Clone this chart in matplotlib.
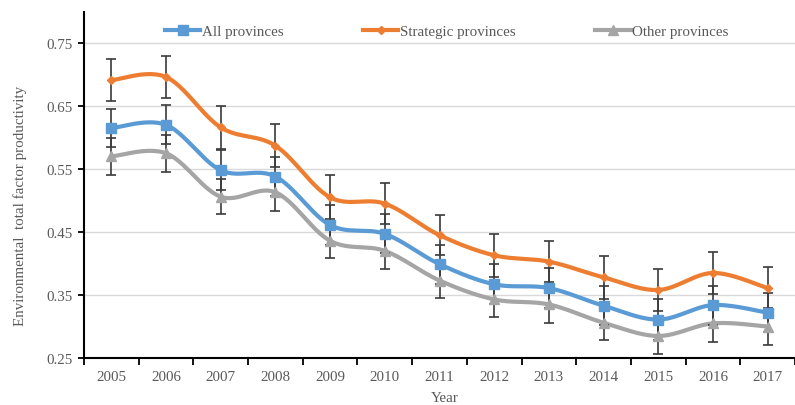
import numpy as np
import matplotlib.pyplot as plt
from matplotlib.lines import Line2D

years = [2005, 2006, 2007, 2008, 2009, 2010, 2011, 2012, 2013, 2014, 2015, 2016, 2017]

all_prov = [0.615, 0.620, 0.548, 0.538, 0.461, 0.447, 0.399, 0.367, 0.361, 0.333, 0.311, 0.334, 0.322]
strategic = [0.691, 0.696, 0.616, 0.587, 0.505, 0.495, 0.445, 0.413, 0.403, 0.378, 0.358, 0.385, 0.361]
other = [0.570, 0.575, 0.506, 0.513, 0.436, 0.420, 0.373, 0.343, 0.335, 0.306, 0.285, 0.305, 0.300]

err_all = [0.030, 0.031, 0.032, 0.031, 0.032, 0.031, 0.031, 0.032, 0.032, 0.031, 0.032, 0.031, 0.031]
err_strategic = [0.033, 0.034, 0.034, 0.034, 0.035, 0.033, 0.032, 0.034, 0.033, 0.034, 0.033, 0.034, 0.034]
err_other = [0.029, 0.029, 0.028, 0.029, 0.028, 0.028, 0.028, 0.028, 0.029, 0.028, 0.029, 0.029, 0.029]

names = ["All provinces", "Strategic provinces", "Other provinces"]
colors = ["#5B9BD5", "#ED7D31", "#A5A5A5"]
markers = ["s", "D", "^"]
msizes = [7, 4.5, 7]
FS = 10.8


def smooth(x, y, n=30):
    # excel-like bezier smoothing through the points
    x = np.asarray(x, float)
    y = np.asarray(y, float)
    xp = np.concatenate([[x[0]], x, [x[-1]]])
    yp = np.concatenate([[y[0]], y, [y[-1]]])
    xs, ys = [], []
    t = np.linspace(0, 1, n)
    for i in range(len(x) - 1):
        p0 = np.array([xp[i + 1], yp[i + 1]])
        p3 = np.array([xp[i + 2], yp[i + 2]])
        p1 = p0 + (np.array([xp[i + 2], yp[i + 2]]) - np.array([xp[i], yp[i]])) / 6
        p2 = p3 - (np.array([xp[i + 3], yp[i + 3]]) - np.array([xp[i + 1], yp[i + 1]])) / 6
        b = ((1 - t) ** 3)[:, None] * p0 + (3 * (1 - t) ** 2 * t)[:, None] * p1 \
            + (3 * (1 - t) * t ** 2)[:, None] * p2 + (t ** 3)[:, None] * p3
        xs.extend(b[:, 0])
        ys.extend(b[:, 1])
    return np.array(xs), np.array(ys)


plt.rcParams['font.family'] = ['Liberation Serif', 'DejaVu Serif']
plt.rcParams['font.size'] = FS

fig = plt.figure(figsize=(7.95, 4.06), dpi=100)
ax = fig.add_axes([84 / 795, 47 / 406, 1 - 84 / 795, 346.5 / 406])

x = np.arange(len(years))
series = [all_prov, strategic, other]
errs = [err_all, err_strategic, err_other]

for vals, c in zip(series, colors):
    sx, sy = smooth(x, vals)
    ax.plot(sx, sy, color=c, lw=3, zorder=3, solid_capstyle='round')

for vals, e in zip(series, errs):
    ax.errorbar(x, vals, yerr=e, fmt='none', ecolor='#3a3a3a', elinewidth=1.2,
                capsize=3.5, capthick=1.2, zorder=4)

for vals, c, m, ms in zip(series, colors, markers, msizes):
    ax.plot(x, vals, ls='none', marker=m, ms=ms, color=c, zorder=5)

ax.set_xlim(-0.5, 12.31)
ax.set_ylim(0.25, 0.80)
ax.set_yticks(np.arange(0.25, 0.76, 0.1))
ax.set_yticklabels(["%.2f" % v for v in np.arange(0.25, 0.76, 0.1)])
ax.yaxis.grid(True, color='#D9D9D9', lw=1)
ax.set_axisbelow(True)

ax.set_xticks(np.arange(-0.5, 13, 1))
ax.set_xticklabels([])
ax.set_xticks(x, minor=True)
ax.set_xticklabels([str(y) for y in years], minor=True)
ax.tick_params(axis='x', which='major', length=5, width=1.3, color='black')
ax.tick_params(axis='x', which='minor', length=0, pad=9, labelcolor='#595959')
ax.tick_params(axis='y', length=4, width=1.3, labelcolor='#595959', pad=4)

for s in ['top', 'right']:
    ax.spines[s].set_visible(False)
for s in ['left', 'bottom']:
    ax.spines[s].set_linewidth(1.5)
    ax.spines[s].set_color('black')

fig.text(20 / 795, 1 - 206 / 406, "Environmental  total factor productivity",
         rotation=90, ha='center', va='center', color='#595959', fontsize=FS)
fig.text(445 / 795, 1 - 399 / 406, "Year", ha='center', va='center',
         color='#595959', fontsize=FS)

handles = [Line2D([], [], color=c, lw=3, marker=m, ms=ms) for c, m, ms in zip(colors, markers, msizes)]
fig.legend(handles, names, loc='center left', bbox_to_anchor=(165 / 795, 1 - 32 / 406),
           ncol=3, frameon=False, borderpad=0, borderaxespad=0, handlelength=2.35,
           handletextpad=0.12, columnspacing=5.3, labelcolor='#595959', fontsize=FS)

fig.savefig("out.png", dpi=100)
